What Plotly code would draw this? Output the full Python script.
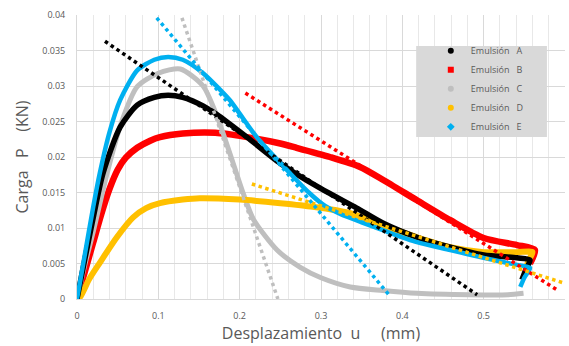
import plotly.graph_objects as go

# Load-displacement curves for the five emulsions
names = ["Emulsión\u00a0\u00a0\u00a0A", "Emulsión\u00a0\u00a0\u00a0B", "Emulsión\u00a0\u00a0\u00a0C",
         "Emulsión\u00a0\u00a0\u00a0D", "Emulsión\u00a0\u00a0\u00a0E"]

a_x = [0, 0.01, 0.02, 0.032, 0.053, 0.074, 0.095, 0.112, 0.13, 0.155, 0.172, 0.209, 0.25, 0.299,
       0.344, 0.376, 0.418, 0.459, 0.5, 0.541, 0.557, 0.552, 0.547]
a_y = [0, 0.0058, 0.0115, 0.0177, 0.0242, 0.0273, 0.0284, 0.0287, 0.0284, 0.0272, 0.026, 0.0228,
       0.0191, 0.0156, 0.0128, 0.0107, 0.0087, 0.0073, 0.0062, 0.0058, 0.0055, 0.0042, 0.0027]

b_x = [0, 0.01, 0.02, 0.03, 0.04, 0.05, 0.06, 0.074, 0.09, 0.102, 0.13, 0.17, 0.209, 0.25, 0.27,
       0.311, 0.348, 0.376, 0.418, 0.459, 0.5, 0.541, 0.563, 0.557]
b_y = [0, 0.004, 0.008, 0.012, 0.0155, 0.0182, 0.0199, 0.0213, 0.0223, 0.0228, 0.0233, 0.0234,
       0.0228, 0.0219, 0.0213, 0.02, 0.0186, 0.0168, 0.0139, 0.0111, 0.0086, 0.0076, 0.0069, 0.005]

c_x = [0, 0.01, 0.02, 0.037, 0.055, 0.074, 0.1, 0.127, 0.155, 0.172, 0.188, 0.204, 0.217, 0.246,
       0.274, 0.3, 0.336, 0.376, 0.418, 0.483, 0.53, 0.549]
c_y = [0, 0.005, 0.0095, 0.0177, 0.025, 0.0299, 0.0318, 0.0324, 0.03, 0.0258, 0.0205, 0.015,
       0.0112, 0.0069, 0.0045, 0.003, 0.0017, 0.0012, 0.0008, 0.0006, 0.0006, 0.0008]

d_x = [0, 0.004, 0.015, 0.028, 0.049, 0.069, 0.085, 0.102, 0.13, 0.151, 0.2, 0.25, 0.29, 0.336,
       0.376, 0.418, 0.459, 0.5, 0.541, 0.56, 0.556, 0.553]
d_y = [0, 0.0003, 0.0028, 0.0051, 0.0087, 0.0115, 0.0128, 0.0135, 0.014, 0.0142, 0.014, 0.0135,
       0.013, 0.0121, 0.0104, 0.0087, 0.0073, 0.0066, 0.0066, 0.0066, 0.0056, 0.0047]

e_x = [0, 0.01, 0.02, 0.028, 0.04, 0.053, 0.074, 0.095, 0.112, 0.13, 0.155, 0.188, 0.2, 0.221,
       0.262, 0.285, 0.305, 0.325, 0.35, 0.376, 0.418, 0.459, 0.5, 0.541, 0.557, 0.55, 0.545]
e_y = [0, 0.0065, 0.013, 0.0177, 0.0235, 0.028, 0.0322, 0.0337, 0.0341, 0.0337, 0.0318, 0.028,
       0.0261, 0.0228, 0.0177, 0.015, 0.0131, 0.0119, 0.0108, 0.0097, 0.008, 0.0069, 0.0058,
       0.0048, 0.0044, 0.003, 0.0017]

# Linear trend segments (start, end) per emulsion
trend_a_x = [0.0344, 0.492]
trend_a_y = [0.0363, 0.0006]
trend_b_x = [0.207, 0.59]
trend_b_y = [0.029, 0.0013]
trend_c_x = [0.129, 0.247]
trend_c_y = [0.0396, 0.0]
trend_d_x = [0.215, 0.60]
trend_d_y = [0.0162, 0.0022]
trend_e_x = [0.098, 0.385]
trend_e_y = [0.0396, 0.0004]

x_ticks = [0, 0.1, 0.2, 0.3, 0.4, 0.5, 0.6]
x_tick_text = ["0", "0.1", "0.2", "0.3", "0.4", "0.5", "0.6"]
y_ticks = [0, 0.005, 0.01, 0.015, 0.02, 0.025, 0.03, 0.035, 0.04]
y_tick_text = ["0", "0.005", "0.01", "0.015", "0.02", "0.025", "0.03", "0.035", "0.04"]

colors = ["#000000", "#ff0000", "#bfbfbf", "#ffc000", "#00b0f0"]
symbols = ["circle", "square", "circle", "circle", "diamond"]
widths = [5.5, 6.5, 5, 6, 4.5]

curves = [(a_x, a_y), (b_x, b_y), (c_x, c_y), (d_x, d_y), (e_x, e_y)]
trends = [(trend_a_x, trend_a_y), (trend_b_x, trend_b_y), (trend_c_x, trend_c_y),
          (trend_d_x, trend_d_y), (trend_e_x, trend_e_y)]

fig = go.Figure()

draw_order = [1, 2, 3, 0, 4]
for i in draw_order:
    x, y = curves[i]
    fig.add_trace(go.Scatter(x=x, y=y, mode="lines", showlegend=False,
                             line=dict(color=colors[i], width=widths[i], shape="spline",
                                       smoothing=0.7),
                             hoverinfo="skip"))

for i in range(5):
    x, y = trends[i]
    fig.add_trace(go.Scatter(x=x, y=y, mode="lines", showlegend=False,
                             line=dict(color=colors[i], width=3.5, dash="3.5px,3.5px"),
                             hoverinfo="skip"))

# Legend entries (marker symbols)
for i in range(5):
    fig.add_trace(go.Scatter(x=[None], y=[None], mode="markers", name=names[i],
                             marker=dict(color=colors[i], symbol=symbols[i], size=6)))

grid = "#d9d9d9"
font_family = "Open Sans, Liberation Sans, sans-serif"

fig.update_layout(
    width=569, height=346,
    margin=dict(l=77, r=4, t=15, b=47),
    paper_bgcolor="white", plot_bgcolor="white",
    font=dict(family=font_family, color="#595959"),
    showlegend=True,
    legend=dict(x=0.725, y=0.925, xanchor="left", yanchor="top",
                bgcolor="rgba(0,0,0,0)", font=dict(size=9, color="#595959"),
                itemwidth=30, tracegroupgap=0),
    shapes=[dict(type="rect", xref="paper", yref="paper",
                 x0=0.695, x1=0.963, y0=0.570, y1=0.891,
                 fillcolor="#d9d9d9", line=dict(width=0), layer="above")],
    xaxis=dict(range=[0, 0.6], tickvals=x_ticks, ticktext=x_tick_text,
               showgrid=True, gridcolor=grid, gridwidth=1,
               minor=dict(dtick=0.02, showgrid=True, gridcolor="#e8e8e8", gridwidth=1),
               zeroline=False, showline=True, linecolor=grid, linewidth=1,
               ticks="outside", ticklen=8, tickcolor="rgba(0,0,0,0)",
               tickfont=dict(size=9, color="#595959"),
               title=dict(text="Desplazamiento\u00a0\u00a0u\u00a0\u00a0\u00a0\u00a0\u00a0(mm)",
                          font=dict(size=16, color="#595959"), standoff=6)),
    yaxis=dict(range=[0, 0.04], tickvals=y_ticks, ticktext=y_tick_text,
               showgrid=True, gridcolor=grid, gridwidth=1,
               zeroline=False, showline=True, linecolor=grid, linewidth=1,
               ticks="outside", ticklen=9, tickcolor="rgba(0,0,0,0)",
               tickfont=dict(size=9, color="#595959"),
               title=dict(text="Carga\u00a0\u00a0\u00a0P\u00a0\u00a0\u00a0\u00a0(KN)",
                          font=dict(size=16, color="#595959"), standoff=9)),
)

fig.write_html("out.html")
